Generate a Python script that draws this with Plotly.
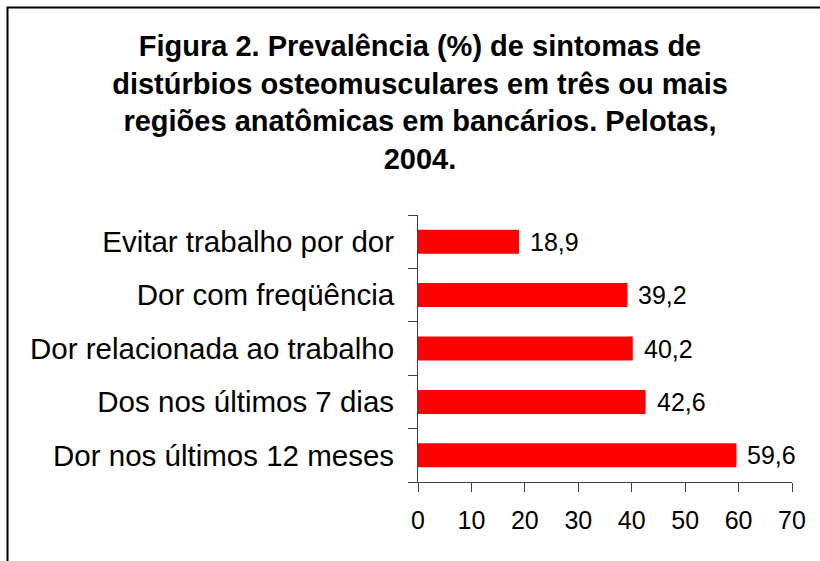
import plotly.graph_objects as go

categories = ["Dor nos últimos 12 meses", "Dos nos últimos 7 dias",
              "Dor relacionada ao trabalho", "Dor com freqüência",
              "Evitar trabalho por dor"]
values = [59.6, 42.6, 40.2, 39.2, 18.9]
value_labels = ["59,6", "42,6", "40,2", "39,2", "18,9"]
x_ticks = [0, 10, 20, 30, 40, 50, 60, 70]
title_lines = ["Figura 2. Prevalência (%) de sintomas de",
               "distúrbios osteomusculares em três ou mais",
               "regiões anatômicas em bancários. Pelotas,",
               "2004."]

FONT = "Liberation Sans, Arial, sans-serif"
W, H = 820, 561
L, R, T, B = 418, 28, 215, 79
pw, ph = W - L - R, H - T - B

fig = go.Figure()
fig.add_trace(go.Bar(
    x=values, y=categories, orientation="h",
    marker=dict(color="#FF0000", line=dict(width=0)),
    width=0.45, showlegend=False, hoverinfo="skip",
))

for v, lab, c in zip(values, value_labels, categories):
    fig.add_annotation(x=v, y=c, xref="x", yref="y", text=lab,
                       showarrow=False, xanchor="left", yanchor="middle",
                       xshift=9, font=dict(family=FONT, size=25, color="black"))

fig.update_layout(
    width=W, height=H, autosize=False,
    margin=dict(l=L, r=R, t=T, b=B, pad=0),
    paper_bgcolor="white", plot_bgcolor="white",
    title=dict(text="<br>".join(title_lines), x=420 / W, xanchor="center",
               xref="container", y=1 - 56 / H, yanchor="top", yref="container",
               font=dict(family=FONT, size=29, color="black", weight="bold")),
    bargap=0.55,
)

fig.update_xaxes(range=[0, 70], tickvals=x_ticks, ticktext=[str(t) for t in x_ticks],
                 showgrid=False, zeroline=False, showline=True, linecolor="#404040",
                 linewidth=1, ticks="outside", ticklen=9, tickcolor="#404040",
                 ticklabelstandoff=7,
                 tickfont=dict(family=FONT, size=25, color="black"))
fig.update_yaxes(categoryorder="array", categoryarray=categories,
                 showgrid=False, zeroline=False, showline=True, linecolor="#404040",
                 linewidth=1, ticks="outside", ticklen=9, tickcolor="#404040",
                 tickson="boundaries", ticklabelstandoff=17,
                 tickfont=dict(family=FONT, size=29.5, color="black"))

# outer frame
x0 = (7.5 - L) / pw
x1 = (W + 20 - L) / pw
y1 = (H - B - 7.5) / ph
y0 = (H - B - (H + 20)) / ph
fig.add_shape(type="rect", xref="paper", yref="paper", x0=x0, x1=x1, y0=y0, y1=y1,
              line=dict(color="black", width=2), layer="above")

fig.write_html("out.html", config={"displayModeBar": False},
               post_script="document.body.style.margin='0';")
